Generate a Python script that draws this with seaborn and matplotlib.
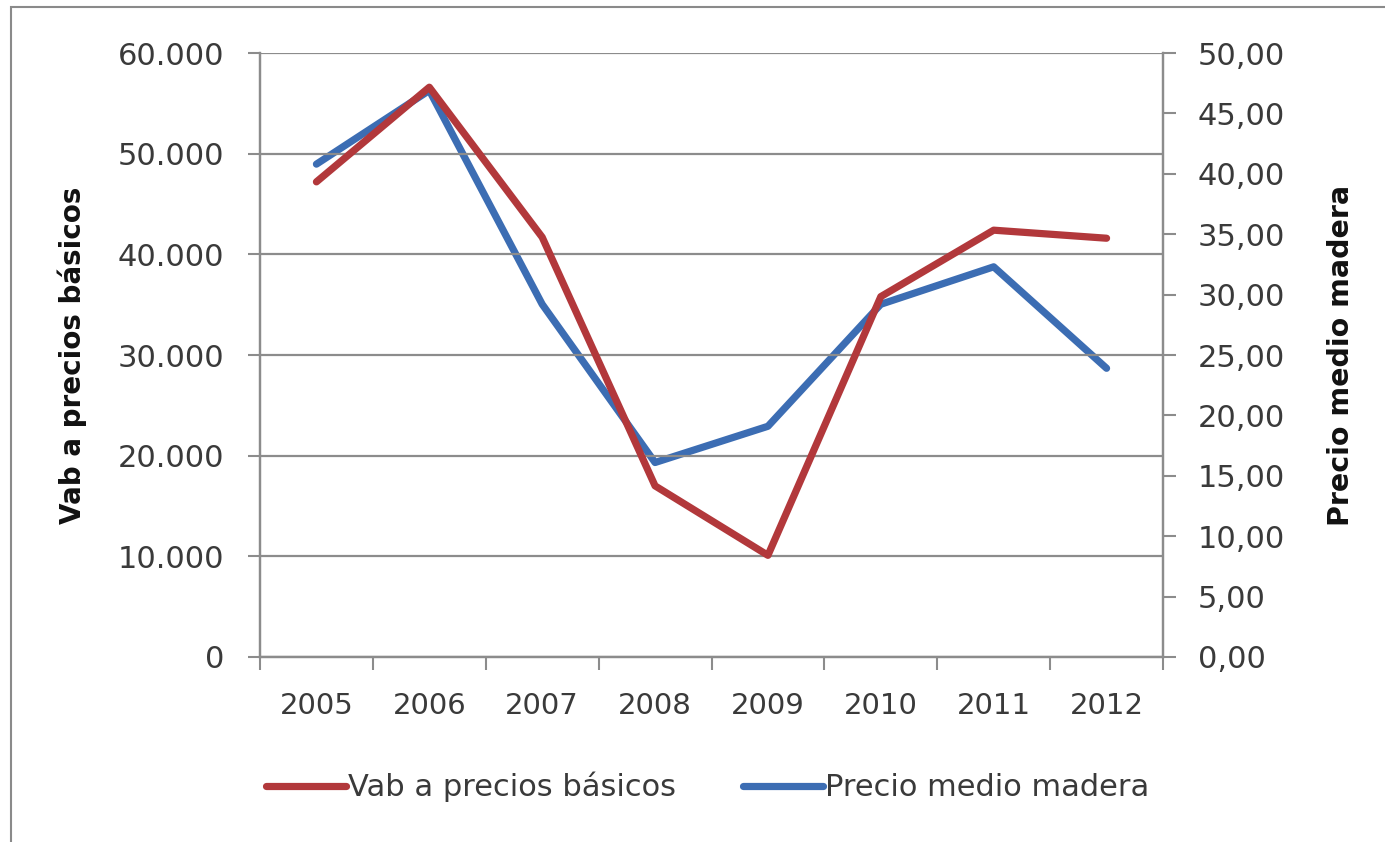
import matplotlib
matplotlib.use("Agg")
import matplotlib.pyplot as plt
import matplotlib.ticker as mticker
from matplotlib.patches import Rectangle
import seaborn as sns
import pandas as pd
import numpy as np

years = ["2005", "2006", "2007", "2008", "2009", "2010", "2011", "2012"]
vab = [47200, 56600, 41700, 17000, 10100, 35800, 42400, 41600]
precio = [40.8, 46.9, 29.2, 16.1, 19.1, 29.2, 32.3, 23.9]
label_vab = "Vab a precios básicos"
label_precio = "Precio medio madera"
left_ticks = [0, 10000, 20000, 30000, 40000, 50000, 60000]
right_ticks = [0, 5, 10, 15, 20, 25, 30, 35, 40, 45, 50]

RED = "#B2383B"
BLUE = "#3C6DB3"
GRID = "#8C8C8C"
TXT = "#3A3A3A"

sns.set_theme(style="white")
plt.rcParams["font.family"] = ["DejaVu Sans"]

df = pd.DataFrame({"year": years, "vab": vab, "precio": precio})

fig = plt.figure(figsize=(13.85, 8.42), dpi=100)
ax = fig.add_axes([260/1385, 1-657/842, (1163-260)/1385, (657-53)/842])
ax2 = ax.twinx()

sns.lineplot(data=df, x="year", y="vab", ax=ax, color=RED, lw=5.2,
             label=label_vab, legend=False, sort=False)
sns.lineplot(data=df, x="year", y="precio", ax=ax2, color=BLUE, lw=5.2,
             label=label_precio, legend=False, sort=False)

ax.set_xlim(-0.5, len(years) - 0.5)
ax.set_ylim(0, 60000)
ax2.set_ylim(0, 50)

ax.set_yticks(left_ticks)
ax.yaxis.set_major_formatter(mticker.FuncFormatter(
    lambda v, p: "0" if v == 0 else f"{int(v):,}".replace(",", ".")))
ax2.set_yticks(right_ticks)
ax2.yaxis.set_major_formatter(mticker.FuncFormatter(
    lambda v, p: f"{v:.2f}".replace(".", ",")))

ax.set_xticks(range(len(years)))
ax.set_xticklabels(years)
ax.set_xticks(np.arange(-0.5, len(years)), minor=True)
ax.tick_params(axis="x", which="major", length=0, pad=25, labelsize=21, labelcolor=TXT)
ax.tick_params(axis="x", which="minor", length=9, width=1.5, color=GRID, direction="out", bottom=True)
ax.tick_params(axis="y", length=9, width=1.5, color=GRID, direction="out", pad=17,
               labelsize=22, labelcolor=TXT, left=True)
ax2.tick_params(axis="y", length=9, width=1.5, color=GRID, direction="out", pad=16,
                labelsize=22, labelcolor=TXT, right=True)

ax.grid(axis="y", color=GRID, lw=1.6)
ax.grid(axis="x", visible=False)
ax2.grid(False)
ax.set_axisbelow(True)

for a in (ax, ax2):
    for s in ["left", "right", "bottom"]:
        a.spines[s].set_color(GRID)
        a.spines[s].set_linewidth(1.6)
    a.spines["top"].set_visible(False)
ax.set_zorder(ax2.get_zorder() + 1)
ax.patch.set_visible(False)

ax.set_xlabel("")
ax.set_ylabel(label_vab, fontsize=20, fontweight="bold", color="#111111")
ax.yaxis.set_label_coords(-0.192, 0.5)
ax2.set_ylabel(label_precio, fontsize=20.5, fontweight="bold", color="#111111")
ax2.yaxis.set_label_coords(1.182, 0.5)

h1, l1 = ax.get_legend_handles_labels()
h2, l2 = ax2.get_legend_handles_labels()
fig.legend(h1 + h2, l1 + l2, loc="center", bbox_to_anchor=(708/1385, 1-787/842),
           ncol=2, frameon=False, fontsize=22, handlelength=2.6, handletextpad=0.08,
           columnspacing=2.2, labelcolor=TXT)

fig.patches.append(Rectangle((11/1385, -0.05), 1.2, 1 - 7/842 + 0.05,
                             transform=fig.transFigure, fill=False,
                             edgecolor="#8A8A8A", lw=1.5))

fig.savefig("out.png", dpi=100, facecolor="white")
